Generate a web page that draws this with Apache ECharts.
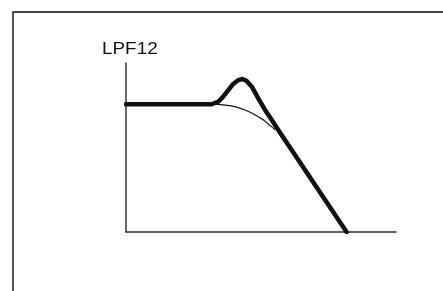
<!DOCTYPE html>
<html>
<head>
<meta charset="utf-8">
<script src="https://cdn.jsdelivr.net/npm/echarts@6/dist/echarts.min.js"></script>
<style>
html,body{margin:0;padding:0;background:#fff;}
#c{width:443px;height:291px;}
</style>
</head>
<body>
<div id="c"></div>
<script>
// Response with resonance (thick curve): [frequency, level]
const resonantX = [0, 31.7, 34.2, 36.0, 37.9, 39.7, 41.6, 43.1, 44.7, 46.6, 49.0, 51.5, 54.0, 56.4, 81.7];
const resonantY = [75.6, 75.6, 77.1, 80.1, 84.0, 87.6, 89.9, 90.5, 89.3, 86.0, 79.1, 72.2, 66.3, 60.4, 0];
// Response without resonance (thin curve)
const plainX = [31.7, 34.2, 36.7, 39.1, 41.6, 44.1, 46.6, 49.0, 51.0, 52.7, 54.0, 55.2];
const plainY = [75.6, 75.5, 75.1, 74.6, 73.6, 72.2, 70.4, 68.2, 66.2, 63.9, 62.2, 60.4];
const axisLabel = "LPF12";

const chart = echarts.init(document.getElementById('c'), null, {renderer: 'canvas'});
chart.setOption({
  backgroundColor: '#fff',
  animation: false,
  grid: {left: 126, right: 47, top: 63, bottom: 59},
  xAxis: {type: 'value', min: 0, max: 100,
    axisLine: {show: true, lineStyle: {color: '#333', width: 1.5}},
    axisTick: {show: false}, axisLabel: {show: false}, splitLine: {show: false}},
  yAxis: {type: 'value', min: 0, max: 100,
    axisLine: {show: true, lineStyle: {color: '#333', width: 1.5}},
    axisTick: {show: false}, axisLabel: {show: false}, splitLine: {show: false}},
  graphic: [
    {type: 'line', shape: {x1: 13, y1: 12, x2: 443, y2: 12}, style: {stroke: '#444', lineWidth: 2}},
    {type: 'line', shape: {x1: 13, y1: 11, x2: 13, y2: 291}, style: {stroke: '#555', lineWidth: 2}},
    {type: 'text', x: 102, y: 50, scaleX: 1.18, scaleY: 1,
      style: {x: 0, y: 0, text: axisLabel, font: '16px "Liberation Sans", Arial, sans-serif', fill: '#111',
        textAlign: 'left', textVerticalAlign: 'middle'}}
  ],
  series: [
    {type: 'line', data: plainX.map((x, i) => [x, plainY[i]]), smooth: false, symbol: 'none',
      lineStyle: {color: '#111', width: 1.2}},
    {type: 'line', data: resonantX.map((x, i) => [x, resonantY[i]]), smooth: false, symbol: 'none',
      lineStyle: {color: '#111', width: 4.5, cap: 'round', join: 'round'}}
  ]
});
</script>
</body>
</html>
